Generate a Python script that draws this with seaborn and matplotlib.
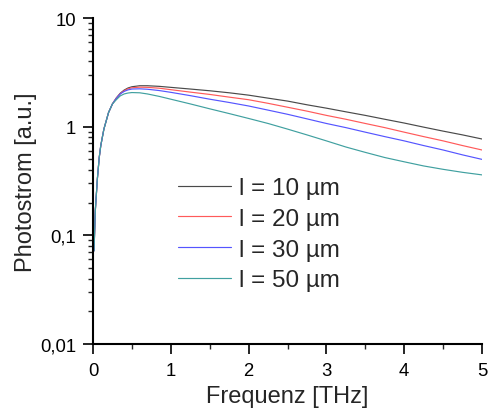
import matplotlib
matplotlib.use("Agg")
import matplotlib.pyplot as plt
import matplotlib.ticker as mticker
import seaborn as sns
import pandas as pd
import numpy as np

freq = [0.013, 0.03, 0.056, 0.08, 0.1, 0.14, 0.2, 0.25, 0.3, 0.35, 0.4, 0.45, 0.5, 0.6, 0.7, 0.85,
        1.0, 1.25, 1.5, 1.75, 2.0, 2.25, 2.5, 2.75, 3.0, 3.25, 3.5, 3.75, 4.0,
        4.25, 4.5, 4.75, 5.0]
rise = [0.072, 0.17, 0.33, 0.52, 0.67, 0.95, 1.35, 1.62]
l10 = rise + [1.84, 2.03, 2.17, 2.27, 2.33, 2.38, 2.38, 2.35, 2.30, 2.22, 2.14, 2.05, 1.95,
              1.83, 1.72, 1.59, 1.48, 1.37, 1.27, 1.17, 1.08, 0.99, 0.91, 0.84, 0.77]
l20 = rise + [1.83, 2.01, 2.14, 2.23, 2.28, 2.31, 2.30, 2.26, 2.19, 2.08, 1.98, 1.87, 1.77,
              1.64, 1.51, 1.39, 1.27, 1.17, 1.07, 0.98, 0.89, 0.81, 0.74, 0.67, 0.61]
l30 = rise + [1.82, 2.00, 2.11, 2.18, 2.22, 2.23, 2.21, 2.15, 2.07, 1.93, 1.79, 1.67, 1.55,
              1.42, 1.30, 1.18, 1.07, 0.98, 0.89, 0.81, 0.74, 0.67, 0.61, 0.55, 0.50]
l50 = rise + [1.77, 1.92, 2.00, 2.04, 2.06, 2.05, 2.00, 1.90, 1.79, 1.62, 1.46, 1.32, 1.19,
              1.07, 0.95, 0.84, 0.74, 0.65, 0.58, 0.52, 0.475, 0.435, 0.405, 0.38, 0.36]
labels = ["l = 10 µm", "l = 20 µm", "l = 30 µm", "l = 50 µm"]
colors = ["#4a4a4a", "#ff5a5a", "#5555ff", "#40a0a0"]
ytick_vals = [0.01, 0.1, 1, 10]
ytick_labels = ["0,01", "0,1", "1", "10"]
xtick_vals = [0, 1, 2, 3, 4, 5]

rows = []
for lab, ser in zip(labels, [l10, l20, l30, l50]):
    for f, v in zip(freq, ser):
        rows.append({"Frequenz": f, "Photostrom": v, "serie": lab})
df = pd.DataFrame(rows)

sns.set_style("ticks")
plt.rcParams['font.family'] = ['Liberation Sans', 'DejaVu Sans']

fig = plt.figure(figsize=(4.88, 4.14), dpi=100)
ax = fig.add_axes([93/488, (414-345)/414, (482-93)/488, (345-19)/414])
sns.lineplot(data=df, x="Frequenz", y="Photostrom", hue="serie",
             palette=colors, linewidth=0.85, ax=ax, legend=True)
ax.set_yscale("log")
ax.set_xlim(0, 5)
ax.set_ylim(0.01, 10)
ax.yaxis.set_major_locator(mticker.FixedLocator(ytick_vals))
ax.yaxis.set_major_formatter(mticker.FixedFormatter(ytick_labels))
ax.yaxis.set_minor_locator(mticker.LogLocator(base=10, subs=np.arange(2, 10)))
ax.yaxis.set_minor_formatter(mticker.NullFormatter())
ax.xaxis.set_major_locator(mticker.FixedLocator(xtick_vals))
ax.xaxis.set_minor_locator(mticker.MultipleLocator(0.5))
ax.tick_params(which="major", length=7, width=1.2, labelsize=13.3, pad=5, direction="out", colors="black")
ax.tick_params(axis="x", which="major", pad=6)
ax.tick_params(which="minor", length=3.6, width=1.0, direction="out")
for s in ["top", "right"]:
    ax.spines[s].set_visible(False)
for s in ["left", "bottom"]:
    ax.spines[s].set_linewidth(1.5)
    ax.spines[s].set_color("black")
ax.set_xlabel("Frequenz [THz]", fontsize=17, labelpad=4)
ax.set_ylabel("Photostrom [a.u.]", fontsize=17, labelpad=2)
leg = ax.legend(loc="upper left", bbox_to_anchor=(178/488, 1 - 178/414),
                bbox_transform=fig.transFigure, frameon=False, borderpad=0, borderaxespad=0,
                fontsize=17.5, handlelength=2.2, labelspacing=0.36, handletextpad=0.33)
fig.savefig("out.png", dpi=100)
